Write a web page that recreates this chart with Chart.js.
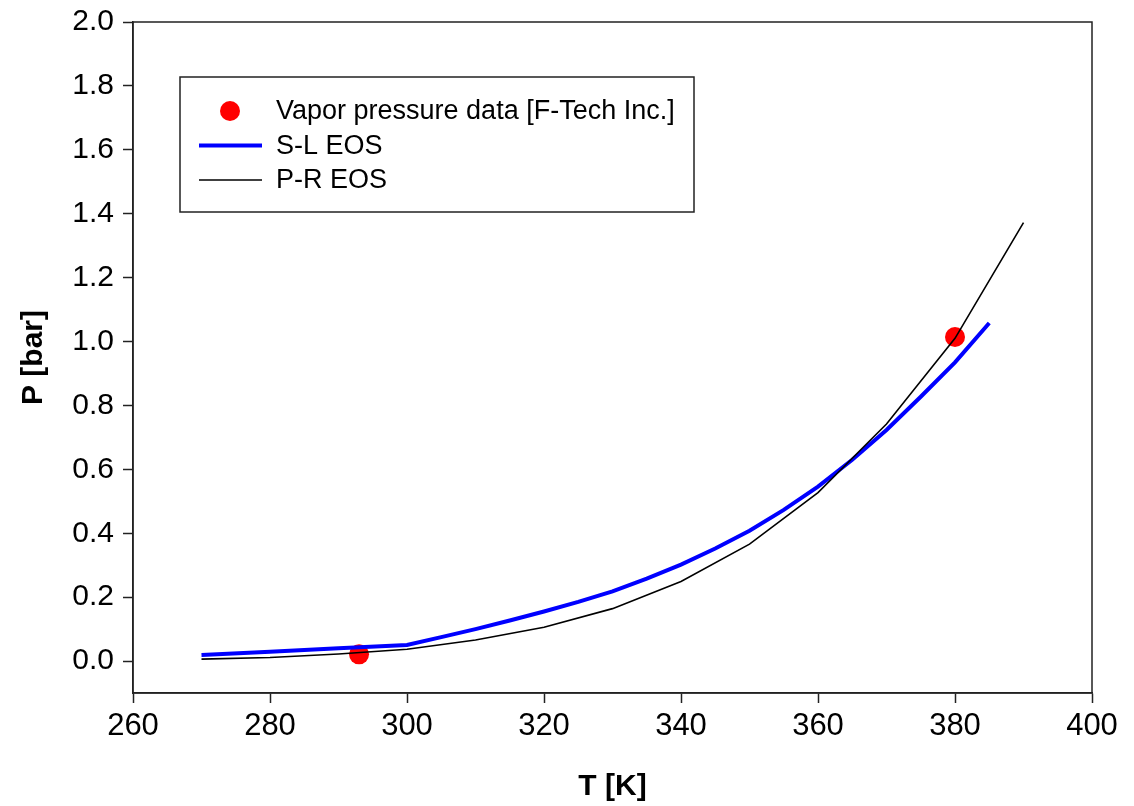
<!DOCTYPE html>
<html>
<head>
<meta charset="utf-8">
<title>Vapor pressure vs T</title>
<script src="https://cdn.jsdelivr.net/npm/chart.js@4.4.1/dist/chart.umd.min.js"></script>
<style>
  html, body { margin: 0; padding: 0; background: #fff; }
  #wrap { width: 1134px; height: 806px; position: relative; }
</style>
</head>
<body>
<div id="wrap"><canvas id="vpChart"></canvas></div>
<script>
// ── DATA ──
const dataT = [293, 380];
const dataP = [0.021, 1.014];

const slT = [270, 280, 290, 300, 305, 310, 315, 320, 325, 330, 335, 340, 345, 350, 355, 360, 365, 370, 375, 380, 385];
const slP = [0.019, 0.029, 0.040, 0.050, 0.075, 0.100, 0.127, 0.155, 0.185, 0.218, 0.258, 0.302, 0.352, 0.408, 0.473, 0.546, 0.630, 0.723, 0.827, 0.935, 1.058];

const prT = [270, 280, 290, 300, 310, 320, 330, 340, 350, 360, 370, 380, 390];
const prP = [0.006, 0.011, 0.022, 0.037, 0.066, 0.106, 0.164, 0.249, 0.366, 0.527, 0.742, 1.010, 1.372];

const xTicks = [260, 280, 300, 320, 340, 360, 380, 400];
const yTicks = [0.0, 0.2, 0.4, 0.6, 0.8, 1.0, 1.2, 1.4, 1.6, 1.8, 2.0];

const FONT = '"Liberation Sans", Arial, sans-serif';
const AXIS = '#222';

const toXY = (xs, ys) => xs.map((x, i) => ({ x: x, y: ys[i] }));

// ── FRAME (top/right edges of the box) ──
const framePlugin = {
  id: 'frame',
  afterDraw(chart) {
    const { ctx, chartArea: a } = chart;
    ctx.save();
    ctx.strokeStyle = AXIS;
    ctx.lineWidth = 1.5;
    ctx.strokeRect(a.left, a.top, a.right - a.left, a.bottom - a.top);
    ctx.restore();
  }
};

// ── LEGEND BOX inside the plot ──
const boxLegend = {
  id: 'boxLegend',
  afterDraw(chart) {
    const { ctx, chartArea: a } = chart;
    const left = a.left + 47, top = a.top + 55, w = 514, h = 135;
    ctx.save();
    ctx.fillStyle = '#fff';
    ctx.fillRect(left, top, w, h);
    ctx.strokeStyle = AXIS;
    ctx.lineWidth = 1.5;
    ctx.strokeRect(left, top, w, h);

    ctx.font = '27px ' + FONT;
    ctx.textBaseline = 'middle';
    ctx.textAlign = 'left';
    chart.data.datasets.forEach((ds, i) => {
      const y = top + 34 + i * 34.5;
      if (ds.showLine === false) {
        ctx.beginPath();
        ctx.fillStyle = ds.pointBackgroundColor;
        ctx.arc(left + 50, y, 10, 0, Math.PI * 2);
        ctx.fill();
      } else {
        ctx.beginPath();
        ctx.strokeStyle = ds.borderColor;
        ctx.lineWidth = ds.borderWidth;
        ctx.moveTo(left + 19, y);
        ctx.lineTo(left + 82, y);
        ctx.stroke();
      }
      ctx.fillStyle = '#000';
      ctx.fillText(ds.label, left + 96, y + 1);
    });
    ctx.restore();
  }
};

function initChart() {
  const ctx = document.getElementById('vpChart');

  new Chart(ctx, {
    type: 'line',
    data: {
      datasets: [
        {
          label: 'Vapor pressure data [F-Tech Inc.]',
          data: toXY(dataT, dataP),
          showLine: false,
          pointRadius: 10,
          pointBackgroundColor: '#ff0000',
          pointBorderWidth: 0,
          order: 3
        },
        {
          label: 'S-L EOS',
          data: toXY(slT, slP),
          borderColor: '#0000ff',
          borderWidth: 4,
          pointRadius: 0,
          tension: 0,
          order: 2
        },
        {
          label: 'P-R EOS',
          data: toXY(prT, prP),
          borderColor: '#000000',
          borderWidth: 1.6,
          pointRadius: 0,
          tension: 0,
          order: 1
        }
      ]
    },
    options: {
      responsive: true, maintainAspectRatio: false,
      animation: false,
      layout: { padding: { left: 0, top: 22, right: 42, bottom: 0 } },
      plugins: { legend: { display: false }, tooltip: { enabled: false } },
      scales: {
        x: {
          type: 'linear',
          min: 260, max: 400,
          afterBuildTicks: s => { s.ticks = xTicks.map(v => ({ value: v })); },
          afterFit: s => { s.height = 113; s.paddingLeft = 0; s.paddingRight = 0; },
          grid: { drawOnChartArea: false, drawTicks: true, tickLength: 10, tickColor: AXIS, tickWidth: 1.5 },
          border: { display: true, color: AXIS, width: 1.5 },
          ticks: { color: '#000', font: { family: FONT, size: 31 }, padding: 5, maxRotation: 0 },
          title: {
            display: true, text: 'T [K]', color: '#000',
            font: { family: FONT, size: 30, weight: 'bold' },
            padding: { top: 0, bottom: 1 }
          }
        },
        y: {
          type: 'linear',
          min: -0.1, max: 2.0,
          afterBuildTicks: s => { s.ticks = yTicks.map(v => ({ value: v })); },
          afterFit: s => { s.width = 133; s.paddingTop = 0; s.paddingBottom = 0; },
          grid: { drawOnChartArea: false, drawTicks: true, tickLength: 10, tickColor: AXIS, tickWidth: 1.5 },
          border: { display: true, color: AXIS, width: 1.5 },
          ticks: { color: '#000', font: { family: FONT, size: 30 }, padding: 9, callback: v => v.toFixed(1) },
          title: {
            display: true, text: 'P [bar]', color: '#000',
            font: { family: FONT, size: 30, weight: 'bold' },
            padding: { top: 16, bottom: 0 }
          }
        }
      }
    },
    plugins: [framePlugin, boxLegend]
  });
}

// ── INIT ──
document.addEventListener('DOMContentLoaded', initChart);
</script>
</body>
</html>
